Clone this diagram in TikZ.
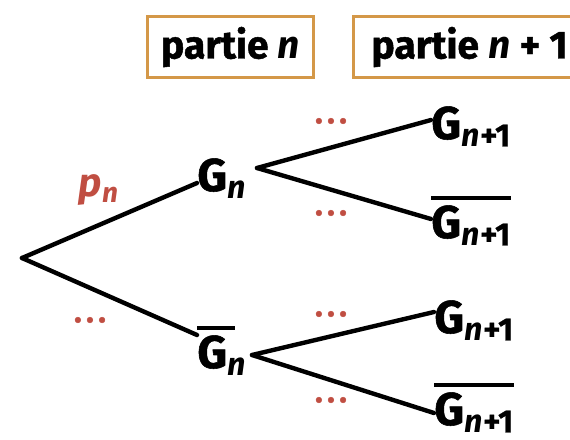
\documentclass[tikz,border=0pt]{standalone}
\usepackage{fontspec}
\setmainfont{Fira Sans}[BoldFeatures={FakeBold=1.2}]
\newfontfamily\pfont{Fira Sans}
\definecolor{boxc}{RGB}{212,152,72}
\definecolor{redc}{RGB}{192,78,66}
\newcommand\ovl[1]{\leavevmode\vbox{\hrule height 2pt\kern 2.5pt\hbox{#1}}}
\newcommand\Gi{G\textsubscript{\itshape n}}
\newcommand\Gii{G\textsubscript{\itshape n\kern0.5pt\upshape+1}}
\newcommand\tdots{.\kern2.2pt.\kern2.2pt.}
\tikzset{
  lbl/.style={font=\fontsize{23}{26}\selectfont\bfseries, inner sep=0pt, anchor=base west},
  hdr/.style={draw=boxc, line width=1.5pt, minimum height=30.5pt, inner sep=0pt, font=\fontsize{19.5}{22}\selectfont\bfseries},
  br/.style={line width=2.2pt, line cap=round},
  dts/.style={text=redc, font=\fontsize{16}{18}\selectfont\bfseries, inner sep=0pt},
}
\begin{document}
\begin{tikzpicture}[x=0.5pt,y=-0.5pt]
\useasboundingbox (0,0) rectangle (570,440);
\clip (0,0) rectangle (570,440);
% headers
\node[hdr, minimum width=83pt, anchor=north west] (h1) at (146,15) {partie \textit{n}};
\node[hdr, anchor=north west] (h2) at (352,15) {\makebox[130pt][l]{\hspace*{9pt}partie \textit{n} + 1}};
% nodes
\coordinate (root) at (22,258);
\node[lbl] (gn) at (197,191) {\Gi};
\node[lbl] (gnb) at (197,368) {\ovl{G\kern4pt}\kern-4pt\textsubscript{\itshape n}};
\coordinate (v1) at (257,168);
\coordinate (v2) at (252,355);
\node[lbl] (g1) at (431,139) {\Gii};
\node[lbl] (g2) at (431,238) {\ovl{\Gii}};
\node[lbl] (g3) at (434,333) {\Gii};
\node[lbl] (g4) at (434,425) {\ovl{\Gii}};
% first level
\draw[br] (root) -- (gn.west |- 0,183) coordinate (e1);
\draw[br] (root) -- (gnb.west |- 0,335) coordinate (e2);
% second level
\draw[br] (v1) -- (g1.west |- 0,120);
\draw[br] (v1) -- (g2.west |- 0,219);
\draw[br] (v2) -- (g3.west |- 0,312);
\draw[br] (v2) -- (g4.west |- 0,413);
% labels
\node[text=redc, font=\fontsize{20}{24}\selectfont\pfont\bfseries\itshape, inner sep=0pt] (pn) at (99,190) {p\textsubscript{n}};
\node[dts] (d0) at (90,320) {\tdots};
\node[dts] (d1) at (331,121) {\tdots};
\node[dts] (d2) at (331,213) {\tdots};
\node[dts] (d3) at (331,314) {\tdots};
\node[dts] (d4) at (331,400) {\tdots};
\end{tikzpicture}
\end{document}
